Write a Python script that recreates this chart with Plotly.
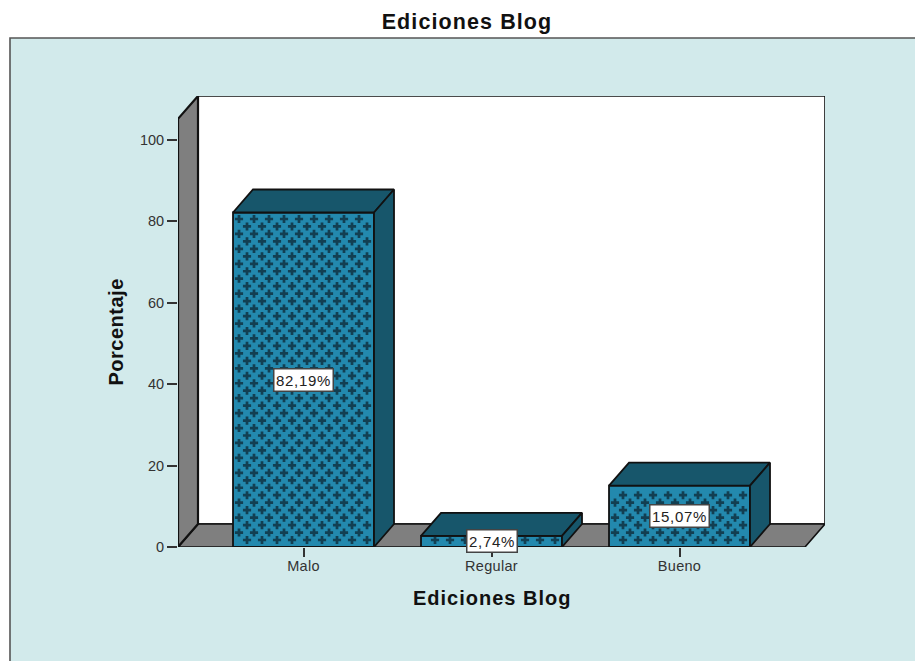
import numpy as np
import plotly.graph_objects as go

categories = ["Malo", "Regular", "Bueno"]
values = [82.19, 2.74, 15.07]
labels = ["82,19%", "2,74%", "15,07%"]
y_ticks = [0, 20, 40, 60, 80, 100]

W, H = 915, 661
L, R, T, B = 178, 825, 96, 547
PX_X = 188.0
PX_Y = 4.07
x0 = -0.6676
x1 = x0 + (R - L) / PX_X
y1 = (B - T) / PX_Y
dx = 20 / PX_X
dy = 23 / PX_Y
front_right = x1 - dx
front_top = 105.2
bw = 0.75

PANEL = "#D2EAEB"
TEAL = "#2389AE"
DARK = "#17566B"
GREY = "#7F7F7F"
INK = "#111111"
FONT = "Liberation Sans"


def poly(xs, ys, fill, width=1.6):
    path = "M " + " L ".join(f"{a},{b}" for a, b in zip(xs, ys)) + " Z"
    return dict(type="path", path=path, xref="x", yref="y", fillcolor=fill,
                line=dict(color=INK, width=width), layer="below")


shapes = [
    dict(type="rect", xref="paper", yref="paper", x0=(10 - L) / (R - L), x1=(W + 5 - L) / (R - L),
         y0=(B - H - 5) / (B - T), y1=(B - 38) / (B - T), fillcolor=PANEL,
         line=dict(color="#555555", width=1.6), layer="below"),
    poly([x0 + dx, x1, x1, x0 + dx], [dy, dy, y1, y1], "white"),
    poly([x0, front_right, x1, x0 + dx], [0, 0, dy, dy], GREY),
    poly([x0, x0 + dx, x0 + dx, x0], [0, dy, y1, front_top], GREY, width=2.2),
]

fig = go.Figure()
fig.add_trace(go.Bar(x=list(range(3)), y=values, width=bw, marker=dict(color=TEAL, line=dict(color=INK, width=1.8)),
                     hoverinfo="skip", showlegend=False))

for i, v in enumerate(values):
    a, b = i - bw / 2, i + bw / 2
    # staggered hatch texture of the bar's front face
    px, py = [], []
    step_x, step_y = 15 / PX_X, 7.465 / PX_Y
    for r, yy in enumerate(np.arange(7 / PX_Y, v - 3 / PX_Y, step_y)):
        start = a + (6 / PX_X if r % 2 else 14 / PX_X)
        for xx in np.arange(start, b - 3 / PX_X, step_x):
            px.append(xx)
            py.append(yy)
    fig.add_trace(go.Scatter(x=px, y=py, mode="markers", marker=dict(symbol="cross", size=6.8, color="#123F52", line=dict(width=0)),
                             hoverinfo="skip", showlegend=False))
    fig.add_trace(go.Scatter(x=[a, a + dx, b + dx, b, a], y=[v, v + dy, v + dy, v, v], mode="lines", fill="toself",
                             fillcolor=DARK, line=dict(color=INK, width=1.8), hoverinfo="skip", showlegend=False))
    fig.add_trace(go.Scatter(x=[b, b + dx, b + dx, b, b], y=[0, dy, v + dy, v, 0], mode="lines", fill="toself",
                             fillcolor=DARK, line=dict(color=INK, width=1.8), hoverinfo="skip", showlegend=False))

annotations = [
    dict(x=i, y=v / 2, xref="x", yref="y", text=t, showarrow=False, bgcolor="white",
         bordercolor="#444444", borderwidth=1.5, borderpad=1, width=len(t) * 9 + 2, height=19,
         font=dict(family=FONT, size=15, color="#222222"))
    for i, (v, t) in enumerate(zip(values, labels))
]
annotations += [
    dict(x=(492 - L) / (R - L), y=(B - 598) / (B - T), xref="paper", yref="paper", xanchor="center", yanchor="middle",
         text="<b>Ediciones Blog</b>", showarrow=False, font=dict(family=FONT, size=20, color=INK)),
    dict(x=(116 - L) / (R - L), y=(B - 332) / (B - T), xref="paper", yref="paper", xanchor="center", yanchor="middle",
         text="<b>Porcentaje</b>", textangle=-90, showarrow=False, font=dict(family=FONT, size=20, color=INK)),
]

fig.update_layout(
    width=W, height=H, autosize=False,
    margin=dict(l=L, r=W - R, t=T, b=H - B, pad=0),
    paper_bgcolor="white", plot_bgcolor="rgba(0,0,0,0)",
    showlegend=False, shapes=shapes, annotations=annotations,
    title=dict(text="<b>Ediciones Blog</b>", x=467 / W, xanchor="center", y=1 - 21 / H, yanchor="middle",
               font=dict(family=FONT, size=21.5, color=INK)),
    xaxis=dict(range=[x0, x1], tickvals=list(range(3)), ticktext=categories, ticks="outside", ticklen=9, tickwidth=1.5,
               tickcolor="#333333", showgrid=False, zeroline=False, showline=False, ticklabelstandoff=-3,
               tickfont=dict(family=FONT, size=14.5, color="#333333")),
    yaxis=dict(range=[0, y1], tickvals=y_ticks, ticks="outside", ticklen=10, tickwidth=1.5, tickcolor="#333333",
               showgrid=False, zeroline=False, showline=False,
               tickfont=dict(family=FONT, size=14.5, color="#333333")),
)

spacing_js = """
document.body.style.margin = '0';
document.querySelectorAll('.gtitle').forEach(t => t.style.letterSpacing = '1.1px');
document.querySelectorAll('.xtick text').forEach(t => t.style.letterSpacing = '0.3px');
document.querySelectorAll('.annotation-text').forEach(t => {
  const s = t.textContent;
  t.style.letterSpacing = s.endsWith('%') ? '0.7px' : (s === 'Porcentaje' ? '0.5px' : '1px');
});
"""
fig.write_html("out.html", post_script=spacing_js, config=dict(displayModeBar=False))
